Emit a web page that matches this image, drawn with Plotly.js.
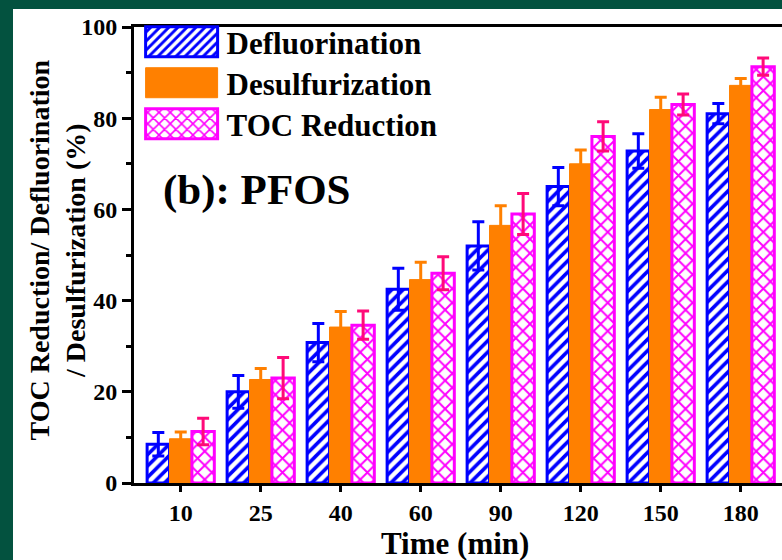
<!DOCTYPE html>
<html>
<head>
<meta charset="utf-8">
<script src="https://cdn.plot.ly/plotly-3.0.1.min.js"></script>
<style>
  html, body { margin: 0; padding: 0; width: 782px; height: 560px; overflow: hidden; background: #03523F; }
  #chart { position: absolute; left: 13px; top: 9px; width: 790px; height: 551px; background: #ffffff; }
</style>
</head>
<body>
<div id="chart"></div>
<script>
// ---- data ----
const timeLabels = ["10", "25", "40", "60", "90", "120", "150", "180"];
const defluorination = [8.5, 20.0, 30.8, 42.5, 52.0, 65.0, 72.8, 81.0];
const defluorinationErr = [2.6, 3.6, 4.2, 4.6, 5.3, 4.2, 3.8, 2.2];
const desulfurization = [9.7, 22.7, 34.2, 44.6, 56.5, 70.0, 81.9, 87.2];
const desulfurizationErr = [1.5, 2.4, 3.4, 3.8, 4.3, 3.0, 2.7, 1.5];
const tocReduction = [11.3, 23.0, 34.6, 46.0, 59.0, 76.0, 83.0, 91.3];
const tocReductionErr = [2.9, 4.5, 3.1, 3.6, 4.5, 3.2, 2.3, 1.9];
const seriesNames = ["Defluorination", "Desulfurization", "TOC Reduction"];

const FONT = "Liberation Serif, Times New Roman, serif";
const BLUE = "#0000FF", ORANGE = "#FF8000", MAGENTA = "#FF00FF", ROSE = "#FF0A78";

const traces = [
  {
    type: "bar", name: seriesNames[0], x: timeLabels, y: defluorination,
    marker: { color: BLUE, line: { color: BLUE, width: 3 },
      pattern: { shape: "/", fgcolor: BLUE, bgcolor: "#FFFFFF", size: 8, solidity: 0.45 } },
    error_y: { type: "data", array: defluorinationErr, visible: true, color: BLUE, thickness: 3, width: 6 }
  },
  {
    type: "bar", name: seriesNames[1], x: timeLabels, y: desulfurization,
    marker: { color: ORANGE, line: { color: ORANGE, width: 1 } },
    error_y: { type: "data", array: desulfurizationErr, visible: true, color: ORANGE, thickness: 3, width: 6 }
  },
  {
    type: "bar", name: seriesNames[2], x: timeLabels, y: tocReduction,
    marker: { color: MAGENTA, line: { color: MAGENTA, width: 3 },
      pattern: { shape: "x", fgcolor: MAGENTA, bgcolor: "#FFFFFF", size: 10, solidity: 0.35 } },
    error_y: { type: "data", array: tocReductionErr, visible: true, color: ROSE, thickness: 3, width: 6 }
  }
];

const layout = {
  width: 790, height: 551,
  margin: { l: 121, r: 17, t: 13, b: 77 },
  paper_bgcolor: "#FFFFFF", plot_bgcolor: "#FFFFFF",
  font: { family: FONT, color: "#000000", weight: "bold" },
  barmode: "group", bargap: 0.16, bargroupgap: 0,
  showlegend: true,
  legend: {
    x: 0.004, xanchor: "left", y: 1.013, yanchor: "top",
    bgcolor: "rgba(0,0,0,0)", borderwidth: 0, itemwidth: 80,
    font: { family: FONT, size: 31, weight: "bold", color: "#000000" },
    traceorder: "normal"
  },
  xaxis: {
    type: "category", range: [-0.584, 7.566],
    showline: true, linecolor: "#000000", linewidth: 3, mirror: true,
    ticks: "outside", ticklen: 6, tickwidth: 3, tickcolor: "#000000",
    showgrid: false, zeroline: false,
    tickfont: { family: FONT, size: 24, weight: "bold", color: "#000000" }
  },
  yaxis: {
    range: [0, 100], dtick: 20, tick0: 0,
    showline: true, linecolor: "#000000", linewidth: 3, mirror: false,
    ticks: "outside", ticklen: 9, tickwidth: 3, tickcolor: "#000000",
    minor: { dtick: 10, ticks: "outside", ticklen: 5, tickwidth: 3, tickcolor: "#000000", showgrid: false },
    showgrid: false, zeroline: false,
    tickfont: { family: FONT, size: 24, weight: "bold", color: "#000000" }
  },
  annotations: [
    { text: "(b): PFOS", xref: "paper", yref: "paper", x: 0.042, y: 0.643,
      xanchor: "left", yanchor: "middle", showarrow: false,
      font: { family: FONT, size: 43, weight: "bold", color: "#000000" } },
    { text: "TOC Reduction/ Defluorination<br>/ Desulfurization (%)", xref: "paper", yref: "paper",
      x: -0.118, y: 0.51, xanchor: "center", yanchor: "middle", textangle: -90, showarrow: false,
      font: { family: FONT, size: 28, weight: "bold", color: "#000000" } },
    { text: "Time (min)", xref: "paper", yref: "paper", x: 0.492, y: -0.132,
      xanchor: "center", yanchor: "middle", showarrow: false,
      font: { family: FONT, size: 31, weight: "bold", color: "#000000" } }
  ]
};

Plotly.newPlot("chart", traces, layout, { staticPlot: true, displayModeBar: false }).then(function (gd) {
  // enlarge legend swatches to wide rectangles, like the original figure
  document.querySelectorAll(".legend g.legendpoints path").forEach(function (p) {
    p.setAttribute("d", "M36,15H-36V-15H36Z");
  });
  // tighten legend row spacing and lift rows slightly
  const items = document.querySelectorAll(".legend .traces");
  if (items.length) {
    const m0 = /translate\(([-\d.]+),\s*([-\d.]+)\)/.exec(items[0].getAttribute("transform"));
    if (m0) {
      const x0 = parseFloat(m0[1]), y0 = parseFloat(m0[2]) - 6;
      items.forEach(function (it, i) {
        it.setAttribute("transform", "translate(" + x0 + "," + (y0 + i * 41) + ")");
      });
    }
  }
});
</script>
</body>
</html>
